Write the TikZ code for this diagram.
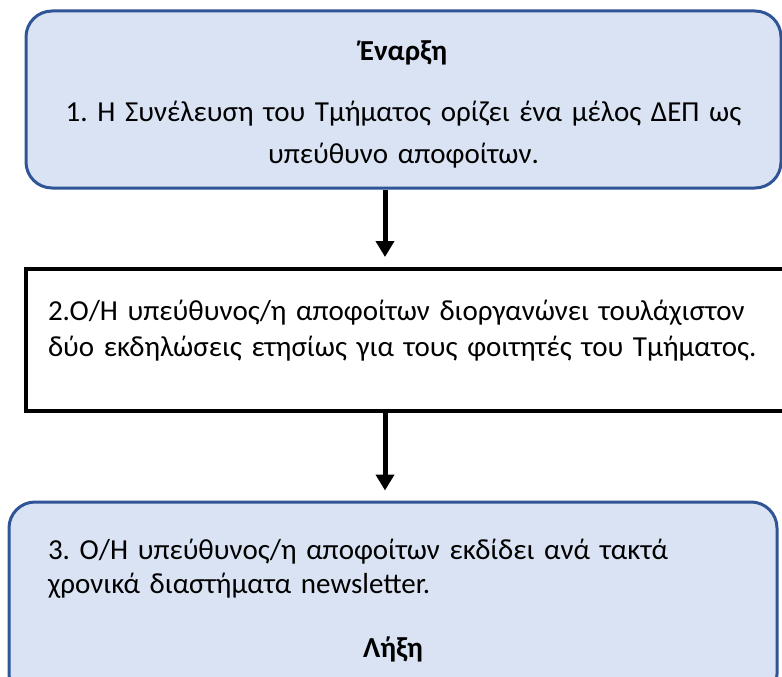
\documentclass[tikz,border=0pt]{standalone}
\usepackage{fontspec}
\setmainfont{Carlito}
\usepackage{xcolor}
\usetikzlibrary{arrows.meta}
\frenchspacing
\definecolor{boxfill}{HTML}{DAE3F3}
\definecolor{boxline}{HTML}{2F5597}
\tikzset{endbox/.style = {shape=rectangle,draw=boxline,fill=boxfill,line width=3pt,rounded corners=26pt}}
\tikzset{stepbox/.style = {shape=rectangle,draw=black,fill=white,line width=4pt,align=left}}
\tikzset{flow/.style = {line width=5pt,-{Triangle[width=18pt,length=16pt]},shorten >=10pt}}

\begin{document}
\begin{tikzpicture}[x=1pt,y=-1pt]
                \useasboundingbox (0,0) rectangle (782,677);

                \node[endbox,align=center,text width=700pt,minimum width=755pt,minimum height=177pt,inner xsep=0pt,
                      font=\fontsize{29}{42}\selectfont] (A) at (403.5,99.5)
                    {\rule{0pt}{30pt}\textbf{Έναρξη}\\[19pt]1. Η Συνέλευση του Τμήματος ορίζει ένα μέλος ΔΕΠ ως\\υπεύθυνο αποφοίτων.};
                \node[stepbox,text width=716pt,inner xsep=22pt,minimum height=142pt,
                      font=\fontsize{29}{36}\selectfont] (B) at (406,340)
                    {2.Ο/Η υπεύθυνος/η αποφοίτων διοργανώνει τουλάχιστον\\δύο εκδηλώσεις ετησίως για τους φοιτητές του Τμήματος.\\[-13pt]\mbox{}};
                \node[endbox,align=left,text width=690pt,inner xsep=39pt,minimum height=198pt,
                      font=\fontsize{29}{34}\selectfont] (C) at (393,601)
                    {3. Ο/Η υπεύθυνος/η αποφοίτων εκδίδει ανά τακτά\\χρονικά διαστήματα newsletter.\\[30pt]\makebox[\linewidth]{\textbf{Λήξη}}};

                \draw[flow] (A.south -| 385,0) -- (B.north -| 385,0);
                \draw[flow] (B.south -| 385,0) -- (C.north -| 385,0);
            \end{tikzpicture}
\end{document}
